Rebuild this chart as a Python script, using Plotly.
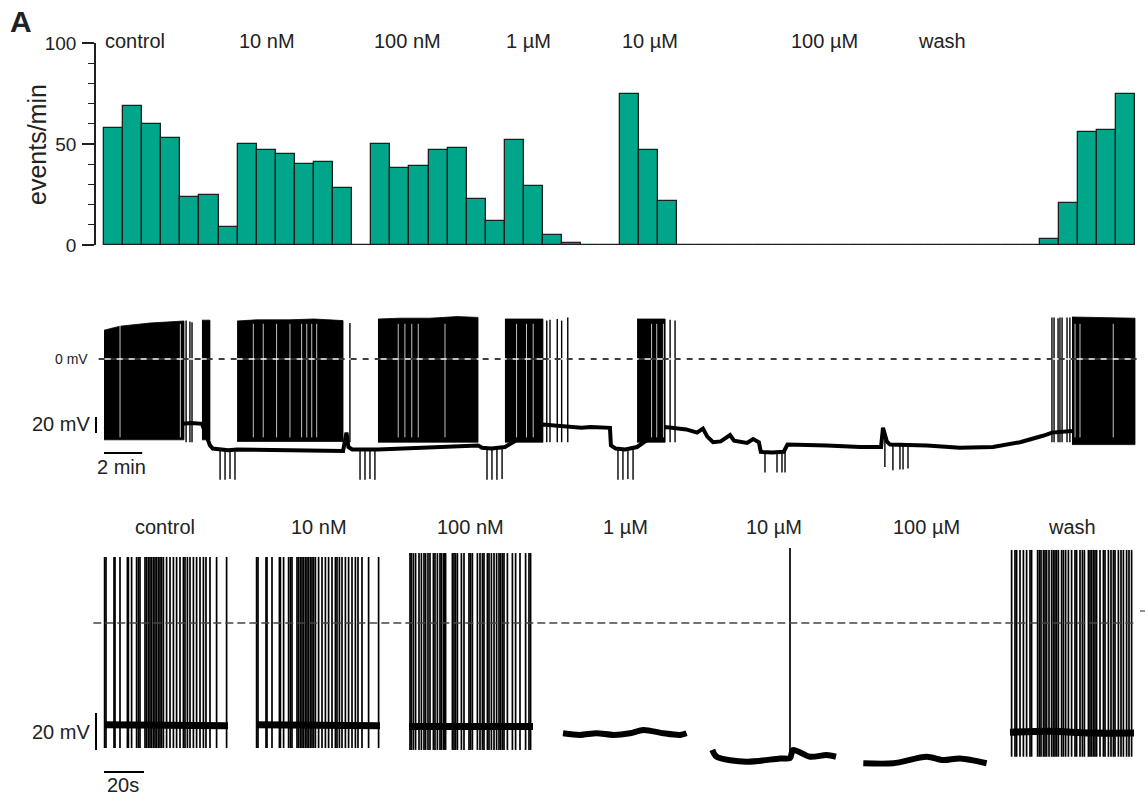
import numpy as np
import plotly.graph_objects as go

W, H = 1145, 800

# ---------------- data ----------------
# events per minute, 1-min bins over the whole 54-min recording
events_per_min = [58, 69, 60, 53, 24, 25, 9,
                  50, 47, 45, 40, 41, 28,
                  0,
                  50, 38, 39, 47, 48, 23, 12, 52, 29, 5, 1,
                  0, 0,
                  75, 47, 22,
                  0, 0, 0, 0, 0, 0, 0, 0, 0, 0, 0, 0, 0, 0, 0, 0, 0, 0, 0,
                  3, 21, 56, 57, 75]
conditions = ["control", "10 nM", "100 nM", "1 µM", "10 µM", "100 µM", "wash"]

# continuous recording (time in min, potential in mV)
# dense firing epochs: envelope of the spike train
block_t = [[0.0, 0.84, 2.41, 4.19], [5.13, 5.55], [6.97, 8.0, 9.74, 11.0, 12.52],
           [14.35, 15.5, 17.07, 18.5, 19.59], [21.0, 22.99], [27.92, 29.39],
           [50.7, 52.3, 54.0]]
block_top = [[36, 41, 45, 47.5], [48.5, 48.5], [47.5, 49, 49, 50, 48],
             [50, 51, 51, 53, 52], [50, 50], [50, 50], [52.5, 52, 51]]
block_bottom = [-101, -101, -103, -104, -104, -104, -107]
# thin interspike gaps visible inside the epochs
block_gap_t = [0.84, 4.0, 7.82, 8.34, 9.04, 9.74, 10.35, 10.62, 10.88, 11.14,
               15.41, 15.76, 16.12, 16.46, 17.86, 21.61, 22.13, 22.48,
               28.68, 28.95, 29.3, 50.86, 51.12, 52.86]
# isolated action potentials
spike_t = [4.30, 4.50, 4.61, 12.88, 23.19, 23.36, 23.74, 23.97, 24.29,
           29.65, 29.91, 49.65, 49.76, 49.97, 50.07, 50.18, 50.44, 50.59]
spike_peak = [48, 47, 46, 45, 48, 49, 50, 48, 52,
              49, 48, 52, 52, 51, 52, 52, 52, 52]
# membrane potential between the firing epochs
base_t = [0.0, 4.19, 4.6, 5.13, 5.55, 5.7, 6.0, 6.5, 6.97,
          12.52, 12.7, 12.8, 13.0, 13.5, 14.0, 14.35,
          19.59, 19.8, 20.3, 21.0,
          22.99, 23.5, 24.3, 25.0, 25.5, 26.0, 26.5,
          26.55, 26.8, 27.3, 27.92,
          29.4, 30.0, 30.5, 31.06, 31.37, 31.6, 31.9, 32.3, 32.79, 33.0, 33.68, 34.0, 34.3,
          34.4, 35.0, 35.6,
          35.8, 37.87, 39.6, 40.7, 40.8, 41.0, 41.17, 43.1, 44.83, 46.56, 47.98,
          49.18, 49.65, 50.7]
base_v = [-88, -80, -80, -81, -108, -112, -113, -114, -113,
          -115, -92, -110, -113, -113, -114, -113,
          -108, -111, -112, -110,
          -82, -83, -85, -86, -85, -85, -86,
          -108, -112, -113, -110,
          -85, -86, -88, -92, -87, -97, -104, -103, -95, -102, -105, -100, -104,
          -116, -117, -116,
          -107, -108, -110, -110, -86, -103, -107, -108, -111, -110, -104,
          -96, -92, -90]
# hyperpolarising deflections during the silent periods
down_t = [6.08, 6.34, 6.60, 6.86, 13.41, 13.67, 13.93, 14.19,
          20.06, 20.32, 20.58, 20.85, 26.92, 27.18, 27.44, 27.71,
          34.62, 35.25, 35.51, 35.67, 40.9, 41.32, 41.69, 41.85, 42.11]
down_v = [-151, -151, -150, -151, -151, -151, -150, -151,
          -151, -151, -151, -150, -151, -151, -150, -151,
          -142, -142, -142, -142, -135, -139, -138, -138, -137]

# 62-s excerpts for each condition (time in s, potential in mV)
snip_names = conditions
ctrl_spikes = [0.3, 1.0, 5.0, 5.5, 8.0, 11.7, 12.2, 13.8, 16.3, 17.2, 18.0, 20.5, 21.3,
               22.2, 23.0, 23.8, 24.7, 25.5, 26.3, 27.2, 28.0, 28.8, 29.7, 31.3, 33.0,
               34.7, 36.3, 38.0, 39.7, 40.5, 41.7, 43.0, 44.7, 46.3, 48.0, 49.7, 51.0,
               53.0, 56.3, 61.3]
nm10_spikes = [0.3, 1.0, 5.0, 5.5, 8.0, 11.7, 12.2, 13.8, 16.3, 17.2, 18.0, 20.5, 21.3,
               22.2, 23.0, 23.8, 24.7, 25.5, 26.3, 27.2, 28.0, 28.8, 29.7, 31.3, 33.0,
               34.7, 36.3, 38.0, 39.7, 40.5, 41.7, 43.0, 44.7, 46.3, 48.0, 49.7, 51.0,
               53.0, 56.3, 61.3]
nm100_spikes = [0.5, 1.2, 2.2, 3.3, 5.0, 6.2, 7.5, 8.3, 9.5, 10.5, 12.2, 13.0, 14.2,
                15.5, 16.2, 17.2, 17.8, 18.3, 21.7, 22.5, 23.3, 24.2, 26.2, 27.5, 30.0,
                30.8, 31.7, 34.2, 35.5, 36.7, 37.5, 39.2, 40.0, 41.2, 42.5, 43.8, 45.0,
                45.8, 46.7, 47.5, 49.2, 51.7, 53.3, 55.5, 58.3, 60.0, 60.8]
um1_spikes = []
um10_spikes = [39.0]
um100_spikes = []
wash_spikes = [0.8, 2.5, 3.3, 5.0, 6.7, 8.3, 10.0, 10.8, 13.8, 14.7, 15.5, 16.7, 17.5,
               18.3, 19.5, 20.8, 21.7, 22.5, 23.3, 24.2, 25.8, 26.7, 27.8, 29.2, 30.8,
               32.5, 33.3, 35.0, 36.2, 37.2, 39.2, 40.0, 40.8, 41.7, 42.5, 43.3, 45.0,
               46.7, 47.5, 49.2, 50.5, 51.7, 52.5, 54.2, 55.5, 56.7, 58.3, 59.5, 60.8]
snip_spikes = [ctrl_spikes, nm10_spikes, nm100_spikes, um1_spikes,
               um10_spikes, um100_spikes, wash_spikes]
snip_peak = [35.7, 35.7, 37.8, 0, 40.5, 0, 39.5]
snip_trough = [-67.6, -67.6, -68.6, 0, -70.0, 0, -72.3]
snip_base_t = [[0, 62], [0, 62], [0, 62],
               [0, 8.5, 16.8, 25.2, 33.5, 40.2, 50.2, 58.5, 61.8],
               [0.15, 2.3, 17.3, 34, 39, 40.5, 49, 57.3, 62],
               [0.15, 15.2, 31.8, 40.2, 48.5, 61.8],
               [0, 20, 40, 62]]
snip_base_v = [[-55, -55.5], [-55, -55.5], [-56, -56],
               [-59.6, -60.5, -59.6, -60.5, -59.6, -57.8, -59.6, -60.5, -59.6],
               [-68.6, -72.3, -75.0, -73.2, -73.0, -68.6, -72.3, -71.4, -72.3],
               [-75.8, -75.8, -72.3, -74.1, -73.2, -75.8],
               [-59, -58.5, -59.5, -59.5]]

# ---------------- geometry ----------------
def fx(x):
    return x / W


def fy(y):
    return 1 - y / H


X0 = 104                      # left edge of the time axes (px)
MIN_PX = 1031 / 54            # px per minute
t_range = [-X0 / MIN_PX, (W - X0) / MIN_PX]
MID_ZERO, MID_K = 359, 0.8    # middle trace: 0 mV row, px per mV
SEC_PX = 2.0                  # excerpts: px per s
BOT_ZERO, BOT_K = 623, 1.85   # excerpts: 0 mV row, px per mV
snip_offset = [0, 76, 152.5, 229.5, 304, 379.5, 453]

INK = "#1f1f1f"
TXT = "#222222"
FONT = "Liberation Sans, Arial, Helvetica, sans-serif"

fig = go.Figure()

# ---- histogram ----
fig.add_trace(go.Bar(
    x=[i + 0.5 for i in range(len(events_per_min))], y=events_per_min, width=1.0,
    marker=dict(color="#00a68a", line=dict(color=INK, width=1.3)),
    xaxis="x", yaxis="y", hoverinfo="skip"))

# ---- continuous recording ----
for t, top, bot in zip(block_t, block_top, block_bottom):
    fig.add_trace(go.Scatter(
        x=t + t[::-1], y=top + [bot] * len(t), fill="toself", fillcolor="black",
        mode="lines", line=dict(color="black", width=0.8),
        xaxis="x2", yaxis="y2", hoverinfo="skip"))

fig.add_trace(go.Scatter(x=base_t, y=base_v, mode="lines",
                         line=dict(color="black", width=4),
                         xaxis="x2", yaxis="y2", hoverinfo="skip"))

sx, sy = [], []
for t, pk in zip(spike_t, spike_peak):
    sx += [t, t, None]
    sy += [-104, pk, None]
for t, v in zip(down_t, down_v):
    sx += [t, t, None]
    sy += [float(np.interp(t, base_t, base_v)), v, None]
fig.add_trace(go.Scatter(x=sx, y=sy, mode="lines", line=dict(color="black", width=1.4),
                         xaxis="x2", yaxis="y2", hoverinfo="skip"))

gx, gy = [], []
for t in block_gap_t:
    gx += [t, t, None]
    gy += [-98, 44, None]
fig.add_trace(go.Scatter(x=gx, y=gy, mode="lines", line=dict(color="white", width=0.9),
                         opacity=0.85, xaxis="x2", yaxis="y2", hoverinfo="skip"))

# ---- excerpts ----
for i in range(len(snip_names)):
    o = snip_offset[i]
    quiet = len(snip_spikes[i]) <= 1
    fig.add_trace(go.Scatter(
        x=[t + o for t in snip_base_t[i]], y=snip_base_v[i], mode="lines",
        line=dict(color="black", width=6 if quiet else 7, shape="spline", smoothing=0.8),
        xaxis="x3", yaxis="y3", hoverinfo="skip"))
    kx, ky = [], []
    for t in snip_spikes[i]:
        kx += [t + o, t + o, None]
        ky += [snip_peak[i], snip_trough[i], None]
    if kx:
        fig.add_trace(go.Scatter(x=kx, y=ky, mode="lines",
                                 line=dict(color="black", width=1.7),
                                 xaxis="x3", yaxis="y3", hoverinfo="skip"))

# ---------------- shapes ----------------
shapes = [
    # histogram baseline
    dict(type="line", xref="x", yref="y", x0=0, x1=54, y0=0, y1=0,
         line=dict(color=INK, width=1.5)),
    # 0 mV reference (reads on both white and black)
    dict(type="line", xref="x2", yref="y2", x0=-0.28, x1=54.16, y0=0, y1=0,
         line=dict(color="white", width=1.4), layer="above"),
    dict(type="line", xref="x2", yref="y2", x0=-0.28, x1=54.16, y0=0, y1=0,
         line=dict(color="black", width=1.4, dash="6px,6px"), layer="above"),
    # scale bars, recording
    dict(type="line", xref="x2", yref="y2", x0=-0.42, x1=-0.42, y0=-92.5, y1=-72.5,
         line=dict(color="black", width=2)),
    dict(type="line", xref="x2", yref="y2", x0=0, x1=2, y0=-117.5, y1=-117.5,
         line=dict(color="black", width=2)),
    # 0 mV reference, excerpts
    dict(type="line", xref="x3", yref="y3", x0=-5.35, x1=516.4, y0=0, y1=0,
         line=dict(color="#444444", width=1.3, dash="8px,4px"), layer="above"),
    dict(type="line", xref="paper", yref="paper", x0=fx(1140), x1=fx(1145),
         y0=fy(611), y1=fy(611), line=dict(color="#444444", width=1.2)),
    # scale bars, excerpts
    dict(type="line", xref="x3", yref="y3", x0=-4, x1=-4, y0=-68.65, y1=-48.65,
         line=dict(color="black", width=2)),
    dict(type="line", xref="x3", yref="y3", x0=0, x1=20, y0=-80.5, y1=-80.5,
         line=dict(color="black", width=2)),
]

# ---------------- text ----------------
def label(text, x, y, size=20, xanchor="center", bold=False):
    return dict(text=f"<b>{text}</b>" if bold else text, x=fx(x), y=fy(y),
                xref="paper", yref="paper", showarrow=False, xanchor=xanchor,
                yanchor="middle", font=dict(family=FONT, size=size, color=TXT))


top_label_x = [134.5, 266.5, 407, 528, 650, 824.5, 942]
bot_label_x = [165, 318.5, 470, 625, 774, 926, 1072]
annotations = [label("A", 21, 22, size=30, bold=True)]
annotations += [label(c, x, 41) for c, x in zip(conditions, top_label_x)]
annotations += [label(c, x, 527) for c, x in zip(snip_names, bot_label_x)]
annotations += [
    dict(text="events/min", x=fx(37), y=fy(145), xref="paper", yref="paper",
         showarrow=False, textangle=-90, xanchor="center", yanchor="middle",
         font=dict(family=FONT, size=25, color=TXT)),
    label("0 mV", 90, 359, size=14, xanchor="right"),
    label("20 mV", 92, 424, size=20, xanchor="right"),
    label("2 min", 121.5, 467, size=20),
    label("20 mV", 92, 732, size=20, xanchor="right"),
    label("20s", 123, 785, size=20),
]

fig.update_layout(
    width=W, height=H,
    margin=dict(l=0, r=0, t=0, b=0, pad=0, autoexpand=False),
    paper_bgcolor="white", plot_bgcolor="rgba(0,0,0,0)", showlegend=False,
    bargap=0,
    xaxis=dict(domain=[0, 1], range=t_range, visible=False, anchor="y",
               automargin=False),
    yaxis=dict(domain=[fy(245), fy(43)], range=[0, 100], anchor="free",
               position=fx(95), showline=True, linecolor=INK, linewidth=1.5,
               ticks="outside", ticklen=12, tickwidth=1.5, tickcolor=INK,
               tickvals=[0, 50, 100], showgrid=False, zeroline=False,
               automargin=False, ticklabelstandoff=2,
               tickfont=dict(family=FONT, size=19, color=TXT),
               minor=dict(ticks="outside", ticklen=6, tickwidth=1.3,
                          tickcolor=INK, dtick=10, showgrid=False)),
    xaxis2=dict(domain=[0, 1], range=t_range, visible=False, anchor="y2",
                automargin=False),
    yaxis2=dict(domain=[fy(495), fy(295)],
                range=[(MID_ZERO - 495) / MID_K, (MID_ZERO - 295) / MID_K],
                visible=False, anchor="x2", automargin=False),
    xaxis3=dict(domain=[0, 1], range=[-X0 / SEC_PX, (W - X0) / SEC_PX],
                visible=False, anchor="y3", automargin=False),
    yaxis3=dict(domain=[0, fy(500)],
                range=[(BOT_ZERO - 800) / BOT_K, (BOT_ZERO - 500) / BOT_K],
                visible=False, anchor="x3", automargin=False),
    shapes=shapes, annotations=annotations,
)

fig.write_html("out.html")
